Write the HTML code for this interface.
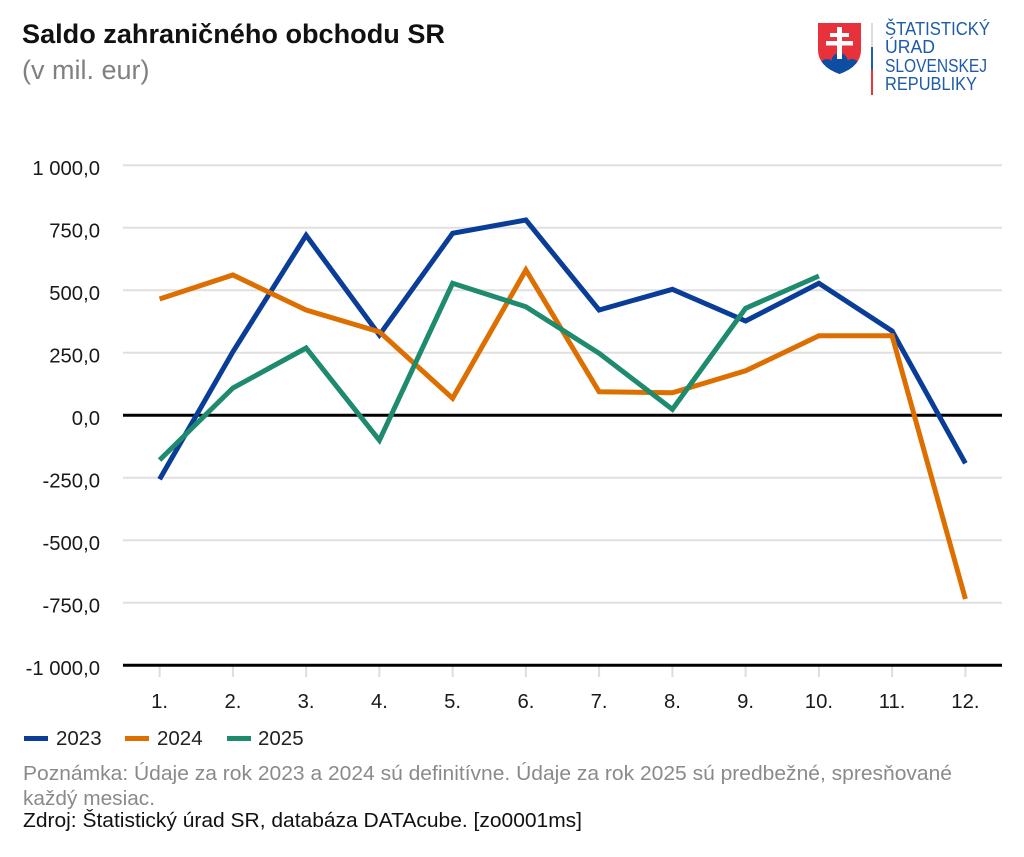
<!DOCTYPE html>
<html><head><meta charset="utf-8"><style>
html,body{margin:0;padding:0;background:#fff;}
svg{display:block;}
text{font-family:"Liberation Sans",Arial,sans-serif;}
</style></head><body>
<svg width="1024" height="857" viewBox="0 0 1024 857" xmlns="http://www.w3.org/2000/svg">
<rect width="1024" height="857" fill="#fff"/>
<!-- Title -->
<text x="22" y="43" font-size="27" font-weight="bold" fill="#111" textLength="423" lengthAdjust="spacingAndGlyphs">Saldo zahraničného obchodu SR</text>
<text x="22" y="79" font-size="27" fill="#808080">(v mil. eur)</text>

<!-- Logo -->
<defs><clipPath id="sh"><path d="M818,23 H861 V50 Q861,66 839.5,74 Q818,66 818,50 Z"/></clipPath></defs>
<path d="M818,23 H861 V50 Q861,66 839.5,74 Q818,66 818,50 Z" fill="#e8323b"/>
<g clip-path="url(#sh)" fill="#0d4ea3">
<circle cx="827" cy="66" r="7"/><circle cx="839.5" cy="61" r="8"/><circle cx="852" cy="66" r="7"/>
<rect x="815" y="66" width="50" height="12"/>
</g>
<g fill="#fff">
<rect x="837" y="27" width="5" height="32"/>
<rect x="830" y="33" width="19" height="4"/>
<rect x="826" y="41" width="27" height="4.5"/>
</g>
<rect x="871" y="23" width="2" height="24" fill="#dcdcdc"/>
<rect x="871" y="47" width="2" height="23" fill="#1f5fae"/>
<rect x="871" y="70" width="2" height="25" fill="#e8343c"/>
<g font-size="18.5" fill="#1e5ba8">
<text x="885" y="35" textLength="105" lengthAdjust="spacingAndGlyphs">ŠTATISTICKÝ</text>
<text x="885" y="53" textLength="50" lengthAdjust="spacingAndGlyphs">ÚRAD</text>
<text x="885" y="72" textLength="102" lengthAdjust="spacingAndGlyphs">SLOVENSKEJ</text>
<text x="885" y="90" textLength="92" lengthAdjust="spacingAndGlyphs">REPUBLIKY</text>
</g>

<!-- Grid -->
<g stroke="#e0e0e0" stroke-width="2">
<line x1="123" y1="165.3" x2="1002" y2="165.3"/>
<line x1="123" y1="227.8" x2="1002" y2="227.8"/>
<line x1="123" y1="290.3" x2="1002" y2="290.3"/>
<line x1="123" y1="352.8" x2="1002" y2="352.8"/>
<line x1="123" y1="477.8" x2="1002" y2="477.8"/>
<line x1="123" y1="540.3" x2="1002" y2="540.3"/>
<line x1="123" y1="602.8" x2="1002" y2="602.8"/>
</g>
<!-- ticks -->
<g stroke="#dddddd" stroke-width="2">
<line x1="159.6" y1="666" x2="159.6" y2="677"/>
<line x1="232.9" y1="666" x2="232.9" y2="677"/>
<line x1="306.1" y1="666" x2="306.1" y2="677"/>
<line x1="379.4" y1="666" x2="379.4" y2="677"/>
<line x1="452.6" y1="666" x2="452.6" y2="677"/>
<line x1="525.9" y1="666" x2="525.9" y2="677"/>
<line x1="599.1" y1="666" x2="599.1" y2="677"/>
<line x1="672.4" y1="666" x2="672.4" y2="677"/>
<line x1="745.6" y1="666" x2="745.6" y2="677"/>
<line x1="818.9" y1="666" x2="818.9" y2="677"/>
<line x1="892.1" y1="666" x2="892.1" y2="677"/>
<line x1="965.4" y1="666" x2="965.4" y2="677"/>
</g>
<line x1="123" y1="415.3" x2="1002" y2="415.3" stroke="#000" stroke-width="3"/>
<line x1="123" y1="665.3" x2="1002" y2="665.3" stroke="#000" stroke-width="3"/>

<!-- Y labels -->
<g font-size="20.3" fill="#1a1a1a" text-anchor="end">
<text x="100" y="175">1 000,0</text>
<text x="100" y="237.5">750,0</text>
<text x="100" y="300">500,0</text>
<text x="100" y="362.5">250,0</text>
<text x="100" y="425">0,0</text>
<text x="100" y="487.5">-250,0</text>
<text x="100" y="550">-500,0</text>
<text x="100" y="612.5">-750,0</text>
<text x="100" y="675">-1 000,0</text>
</g>
<!-- X labels -->
<g font-size="20.3" fill="#1a1a1a" text-anchor="middle">
<text x="159.6" y="708">1.</text>
<text x="232.9" y="708">2.</text>
<text x="306.1" y="708">3.</text>
<text x="379.4" y="708">4.</text>
<text x="452.6" y="708">5.</text>
<text x="525.9" y="708">6.</text>
<text x="599.1" y="708">7.</text>
<text x="672.4" y="708">8.</text>
<text x="745.6" y="708">9.</text>
<text x="818.9" y="708">10.</text>
<text x="892.1" y="708">11.</text>
<text x="965.4" y="708">12.</text>
</g>

<!-- Series -->
<g fill="none" stroke-width="5" stroke-linejoin="miter" stroke-miterlimit="10" stroke-linecap="butt">
<polyline stroke="#0a3d98" points="159.6,479.3 232.9,351.8 306.1,235.3 379.4,335 452.6,233.3 525.9,220 599.1,310 672.4,289.3 745.6,321 818.9,283.3 892.1,331 965.4,463.3"/>
<polyline stroke="#dd6f00" points="159.6,299 232.9,275 306.1,310 379.4,331.8 452.6,398.3 525.9,270 599.1,391.8 672.4,392.8 745.6,370.8 818.9,335.8 892.1,335.8 965.4,599"/>
<polyline stroke="#1e8a6e" points="159.6,460 232.9,388 306.1,348 379.4,440.3 452.6,283.3 525.9,306.8 599.1,353.3 672.4,409.3 745.6,308.3 818.9,276"/>
</g>

<!-- Legend -->
<rect x="24" y="736" width="24" height="5" fill="#0a3d98"/>
<rect x="125" y="736" width="24" height="5" fill="#dd6f00"/>
<rect x="227" y="736" width="24" height="5" fill="#1e8a6e"/>
<g font-size="20.5" fill="#222">
<text x="56" y="745">2023</text>
<text x="157" y="745">2024</text>
<text x="258" y="745">2025</text>
</g>

<!-- Notes -->
<g font-size="20.5" fill="#8a8a8a">
<text x="23" y="780" textLength="929" lengthAdjust="spacingAndGlyphs">Poznámka: Údaje za rok 2023 a 2024 sú definitívne. Údaje za rok 2025 sú predbežné, spresňované</text>
<text x="23" y="805" textLength="132" lengthAdjust="spacingAndGlyphs">každý mesiac.</text>
</g>
<text x="23" y="827" font-size="20.5" fill="#111" textLength="559" lengthAdjust="spacingAndGlyphs">Zdroj: Štatistický úrad SR, databáza DATAcube. [zo0001ms]</text>
</svg>
</body></html>
